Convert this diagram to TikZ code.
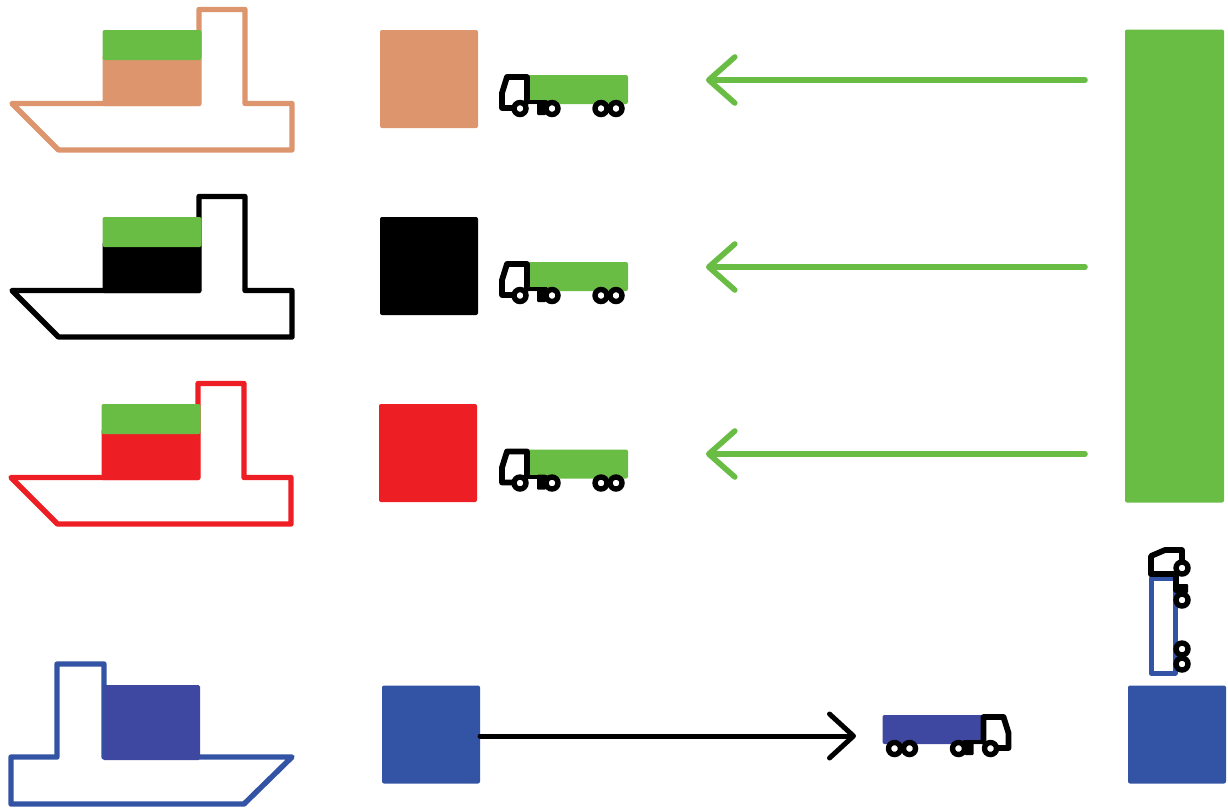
\documentclass[tikz,border=0pt]{standalone}
\usetikzlibrary{arrows.meta}
\definecolor{cgreen}{HTML}{69BD45}
\definecolor{corange}{HTML}{DD956E}
\definecolor{cred}{HTML}{ED1F24}
\definecolor{cblue}{HTML}{3353A5}
\definecolor{ctruck}{HTML}{3F48A0}
\tikzset{
  box/.style={rectangle,inner sep=0pt,outer sep=0pt,rounded corners=2pt,minimum width=98pt,minimum height=98pt},
  outline/.style={line width=5.4pt,line join=round,line cap=round},
  blk/.style={line width=5.8pt,black,line join=round,line cap=round},
  wheel/.style={line width=5.4pt,black,fill=white},
  garrow/.style={line width=5.6pt,cgreen,line cap=round,-{Straight Barb[length=26pt,width=46pt,round]}},
  barrow/.style={line width=5pt,black,line cap=round,-{Straight Barb[length=24pt,width=44pt,round]}}
}
% #1 dx, #2 dy, #3 colour
\newcommand{\cargoship}[3]{%
  \begin{scope}[shift={(#1,#2)}]
    \draw[outline,#3] (12,103.5) -- (58.5,150) -- (292,150) -- (292,103.5) -- (245,103.5) -- (245,9.5) -- (199,9.5) -- (199,103.5) -- cycle;
    \fill[#3,rounded corners=1.5pt] (102.5,55) rectangle (201,106);
    \fill[cgreen,rounded corners=2pt] (102.5,30) rectangle (201.5,60);
  \end{scope}}
% #1 dx, #2 dy, #3 direction, #4 colour
\newcommand{\lorry}[4]{%
  \begin{scope}[shift={(#1,#2)},xscale=#3]
    \fill[#4,rounded corners=2pt] (528,75) rectangle (628,104);
    \draw[blk] (527,102) -- (527,77) -- (507,77) -- (502,93) -- (502,108) -- (515,108);
    \draw[blk,line width=4pt] (527,102) -- (546,102);
    \fill[black,rounded corners=1pt] (537,100) rectangle (546,115);
    \draw[wheel] (520,108.5) circle (6pt);
    \draw[wheel] (552,108.5) circle (6pt);
    \draw[wheel] (601,108.5) circle (6pt);
    \draw[wheel] (616,108.5) circle (6pt);
  \end{scope}}
\begin{document}
\begin{tikzpicture}[x=1pt,y=-1pt]
\useasboundingbox (0,0) rectangle (1228,809);
% ships
\cargoship{0}{0}{corange}
\cargoship{0}{187}{black}
\cargoship{-1}{374}{cred}
% blue ship
\draw[outline,cblue] (292,757) -- (244,804) -- (11,804) -- (11,757) -- (57,757) -- (57,664) -- (104,664) -- (104,757) -- cycle;
\fill[ctruck,rounded corners=1.5pt] (103,685) rectangle (200,760);
% squares
\node[box,fill=corange] (sqa) at (429,79) {};
\node[box,fill=black] (sqb) at (429,266) {};
\node[box,fill=cred] (sqc) at (428,453) {};
\node[box,fill=cblue] (sqd) at (431,734.5) {};
\node[box,fill=cblue] (sqe) at (1177,734.5) {};
\node[box,fill=cgreen,minimum height=473pt,minimum width=99pt] (bar) at (1174.5,266) {};
% lorries
\lorry{0}{0}{1}{cgreen}
\lorry{0}{187}{1}{cgreen}
\lorry{0}{374.5}{1}{cgreen}
\lorry{1510.5}{640}{-1}{ctruck}
% upright lorry
\draw[line width=5pt,cblue,line join=round] (1151,578) rectangle (1175,673);
\draw[blk] (1151,574) -- (1151,556) -- (1165,550) -- (1182,550) -- (1182,568);
\draw[blk] (1151,574) -- (1176,574);
\draw[blk] (1176,574) -- (1176,590);
\fill[black,rounded corners=1pt] (1175,584) rectangle (1188,593);
\draw[wheel] (1182,568) circle (6pt);
\draw[wheel] (1182,600) circle (6pt);
\draw[wheel] (1182,649) circle (6pt);
\draw[wheel] (1182,664) circle (6pt);
% arrows
\coordinate (ga1) at (1085,80);  \coordinate (gb1) at (706,80);
\coordinate (ga2) at (1085,267); \coordinate (gb2) at (706,267);
\coordinate (ga3) at (1085,454); \coordinate (gb3) at (706,454);
\coordinate (dend) at (856,736);
\draw[garrow] (ga1) -- (gb1);
\draw[garrow] (ga2) -- (gb2);
\draw[garrow] (ga3) -- (gb3);
\draw[barrow] (sqd.east |- dend) -- (dend);
\end{tikzpicture}
\end{document}
